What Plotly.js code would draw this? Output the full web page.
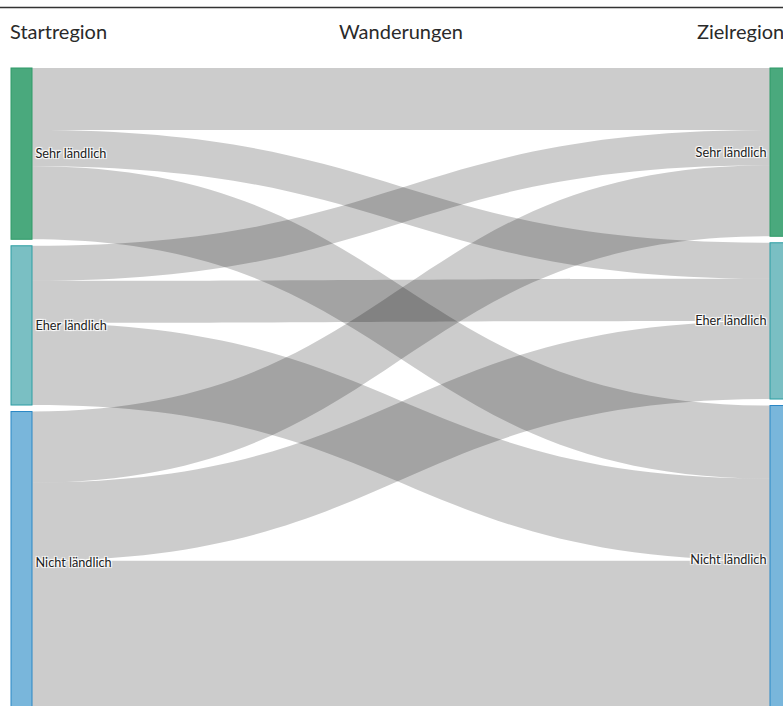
<!DOCTYPE html>
<html>
<head>
<meta charset="utf-8">
<script src="https://cdn.plot.ly/plotly-3.0.1.min.js"></script>
<style>
html,body{margin:0;padding:0;overflow:hidden;background:#fff;}
#chart{width:800px;height:720px;}
</style>
</head>
<body>
<div id="chart"></div>
<script>
// Regionen
const regions = ["Sehr ländlich", "Eher ländlich", "Nicht ländlich"];
const nodeColors = ["#4aa97d", "#7abfc3", "#79b6db"];
const nodeLineColors = ["#2f9a69", "#2c9ea3", "#2a87c5"];
// Wanderungen: Startregion -> Zielregion
const linkSource = [0, 0, 0, 1, 1, 1, 2, 2, 2];
const linkTarget = [3, 4, 5, 3, 4, 5, 3, 4, 5];
const linkValue  = [62, 36, 73, 35, 42, 82, 71, 78, 153];
const columnTitles = ["Startregion", "Wanderungen", "Zielregion"];

// Layout geometry
const W = 800, H = 720, ML = 11, MR = 9, MT = 68, MB = 6;
const PW = W - ML - MR, PH = H - MT - MB;
const PAD = 6.5, THICK = 21;
function px(x){ return (x - ML) / PW; }

// Keep the node order of the regions in each column (derived from the data)
const nNodes = regions.length * 2;
const nodeTotals = new Array(nNodes).fill(0);
const inTotals = new Array(nNodes).fill(0);
linkValue.forEach((v, k) => { nodeTotals[linkSource[k]] += v; inTotals[linkTarget[k]] += v; });
for (let i = 0; i < nNodes; i++) nodeTotals[i] = Math.max(nodeTotals[i], inTotals[i]);
const grand = linkValue.reduce((a, b) => a + b, 0);
const ky = (PH - (regions.length - 1) * PAD) / grand;
const nodeX = [], nodeY = [];
[0, 1].forEach(col => {
  let cum = 0;
  regions.forEach((r, i) => {
    const idx = col * regions.length + i;
    const v = nodeTotals[idx];
    nodeY[idx] = (cum * ky + i * PAD + v * ky / 2) / PH;
    nodeX[idx] = col === 0 ? (THICK / 2) / PW : 1 - (THICK / 2) / PW;
    cum += v;
  });
});

const labels = regions.concat(regions);
const trace = {
  type: "sankey",
  orientation: "h",
  arrangement: "snap",
  node: {
    label: labels,
    x: nodeX,
    y: nodeY,
    color: nodeColors.concat(nodeColors),
    line: {color: nodeLineColors.concat(nodeLineColors), width: 1},
    thickness: THICK,
    pad: PAD
  },
  link: {
    source: linkSource,
    target: linkTarget,
    value: linkValue,
    color: "rgba(0,0,0,0.2)"
  },
  textfont: {family: "Lato, 'Open Sans', sans-serif", size: 12.7, color: "#222"}
};

const layout = {
  width: W,
  height: H,
  margin: {l: ML, r: MR, t: MT, b: MB, pad: 0},
  paper_bgcolor: "#fff",
  font: {family: "Lato, 'Open Sans', sans-serif", color: "#222"},
  showlegend: false,
  annotations: [
    {text: columnTitles[0], xref: "paper", yref: "paper", x: px(8), xanchor: "left", y: 1, yshift: 37, yanchor: "middle", showarrow: false, font: {size: 20, color: "#2a2a2a"}},
    {text: columnTitles[1], xref: "paper", yref: "paper", x: px(401), xanchor: "center", y: 1, yshift: 37, yanchor: "middle", showarrow: false, font: {size: 20, color: "#2a2a2a"}},
    {text: columnTitles[2], xref: "paper", yref: "paper", x: px(786), xanchor: "right", y: 1, yshift: 37, yanchor: "middle", showarrow: false, font: {size: 20, color: "#2a2a2a"}}
  ],
  shapes: [
    {type: "line", xref: "paper", yref: "paper", x0: px(0), x1: px(783), ysizemode: "pixel", yanchor: 1, y0: 60.5, y1: 60.5, line: {color: "#333", width: 1.5}}
  ]
};

Plotly.newPlot("chart", [trace], layout, {displayModeBar: false, staticPlot: true}).then(gd => {
  // apply the colored node outlines
  const lc = nodeLineColors.concat(nodeLineColors);
  gd.querySelectorAll(".sankey-node").forEach((g, i) => {
    const rect = g.querySelector(".node-rect");
    const d = g.__data__;
    if (rect && d && d.node) {
      const idx = d.node.pointNumber;
      if (idx != null && lc[idx]) rect.style.stroke = lc[idx];
    }
  });
});
</script>
</body>
</html>
